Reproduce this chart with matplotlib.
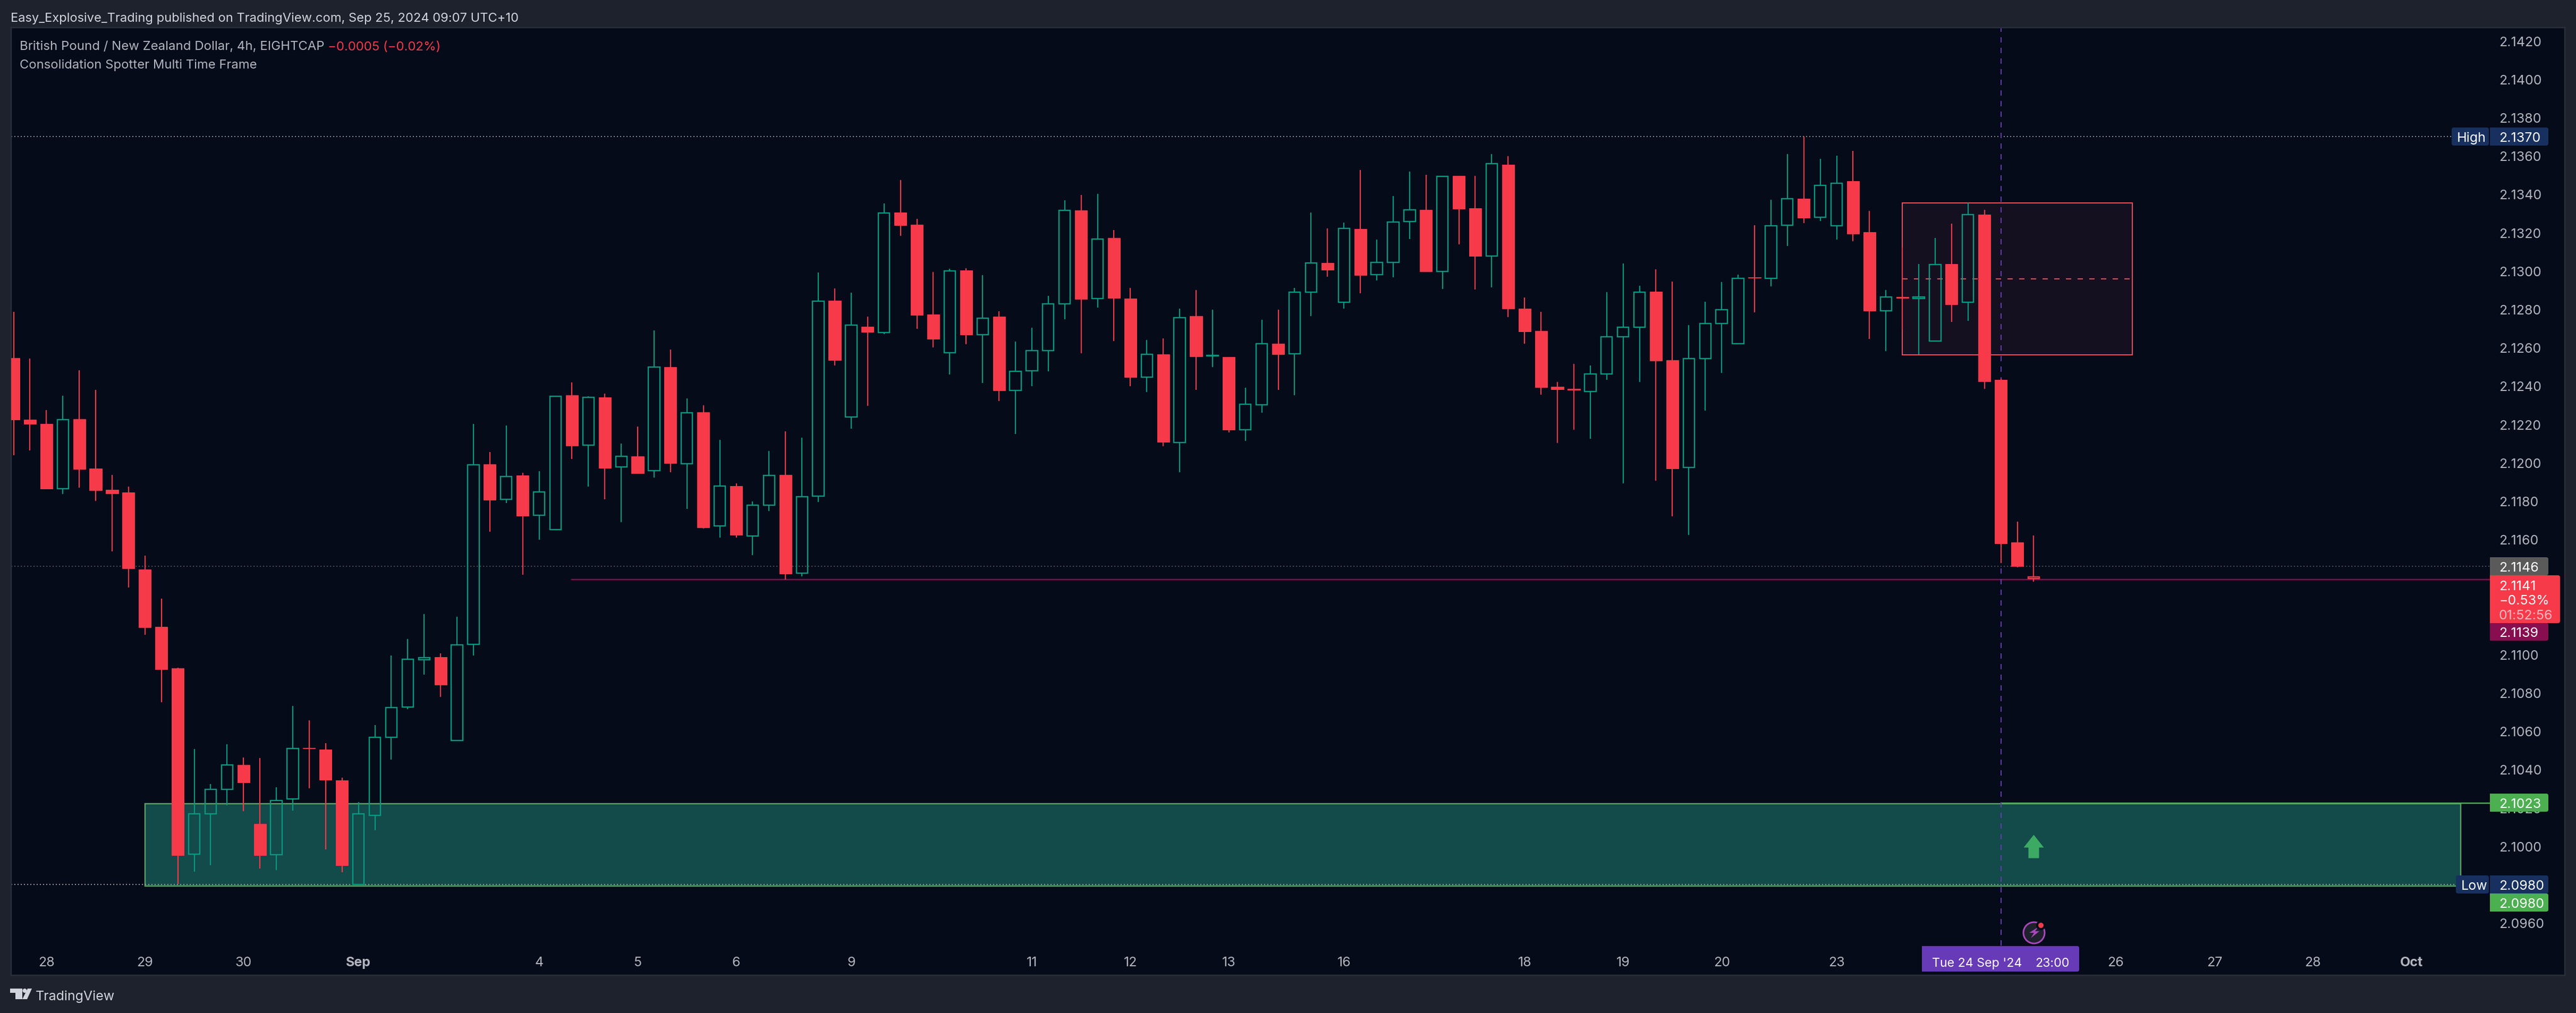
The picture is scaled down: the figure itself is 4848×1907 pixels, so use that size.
import matplotlib
matplotlib.use("Agg")
from matplotlib import pyplot as plt
from matplotlib.patches import Circle, FancyBboxPatch, Polygon, Rectangle
from matplotlib.path import Path

WIDTH, HEIGHT = 4848, 1908
DPI = 100
PX = 72 / DPI  # one pixel in points

BG_OUTER = "#1e222d"
BG_CHART = "#050b19"
BORDER = "#2a2e39"
RED = "#f63a4a"
TEAL = "#089981"
TEXT = "#b2b5be"

# candles, 4h bars
opens = [
    2.12545, 2.12224, 2.12201, 2.11865, 2.12226, 2.11969, 2.11859, 2.11845, 2.11443, 2.11144,
    2.10928, 2.09957, 2.10168, 2.10297, 2.10423, 2.10117, 2.09954, 2.10246, 2.10513, 2.10503,
    2.10343, 2.09801, 2.10159, 2.10568, 2.10724, 2.10972, 2.10986, 2.10552, 2.11052, 2.11992,
    2.11808, 2.11932, 2.11724, 2.11650, 2.12352, 2.12091, 2.12340, 2.11976, 2.12032, 2.11957,
    2.12498, 2.11995, 2.12262, 2.11669, 2.11878, 2.11618, 2.11779, 2.11936, 2.11422, 2.11826,
    2.12845, 2.12238, 2.12709, 2.12679, 2.13304, 2.13241, 2.12773, 2.12572, 2.13002, 2.12668,
    2.12761, 2.12377, 2.12480, 2.12585, 2.12828, 2.13315, 2.12855, 2.13171, 2.12856, 2.12446,
    2.12565, 2.12104, 2.12764, 2.12555, 2.12551, 2.12172, 2.12301, 2.12620, 2.12566, 2.12890,
    2.13041, 2.12835, 2.13218, 2.12979, 2.13045, 2.13256, 2.13318, 2.12997, 2.13495, 2.13327,
    2.13078, 2.13553, 2.12802, 2.12686, 2.12395, 2.12384, 2.12370, 2.12463, 2.12657, 2.12705,
    2.12891, 2.12533, 2.11974, 2.12541, 2.12724, 2.12619, 2.12966, 2.12960, 2.13239, 2.13376,
    2.13278, 2.13236, 2.13467, 2.13201, 2.12793, 2.12863, 2.12855, 2.12635, 2.13036, 2.12837,
    2.13294, 2.12432, 2.11584, 2.11404,
]
highs = [
    2.12786, 2.12543, 2.12274, 2.12348, 2.12481, 2.12380, 2.11937, 2.11875, 2.11514, 2.11291,
    2.10930, 2.10506, 2.10324, 2.10531, 2.10462, 2.10460, 2.10306, 2.10731, 2.10655, 2.10536,
    2.10356, 2.10230, 2.10630, 2.10993, 2.11080, 2.11211, 2.11004, 2.11197, 2.12201, 2.12054,
    2.12192, 2.11946, 2.11956, 2.12347, 2.12418, 2.12346, 2.12360, 2.12099, 2.12188, 2.12689,
    2.12589, 2.12335, 2.12299, 2.12118, 2.11891, 2.11797, 2.12060, 2.12164, 2.12130, 2.12992,
    2.12908, 2.12886, 2.12761, 2.13351, 2.13474, 2.13272, 2.12995, 2.13010, 2.13013, 2.12978,
    2.12788, 2.12631, 2.12703, 2.12869, 2.13368, 2.13396, 2.13402, 2.13212, 2.12911, 2.12640,
    2.12648, 2.12802, 2.12900, 2.12797, 2.12551, 2.12390, 2.12744, 2.12797, 2.12911, 2.13304,
    2.13221, 2.13252, 2.13526, 2.13163, 2.13390, 2.13518, 2.13501, 2.13493, 2.13495, 2.13495,
    2.13609, 2.13598, 2.12860, 2.12787, 2.12421, 2.12514, 2.12507, 2.12888, 2.13037, 2.12921,
    2.13007, 2.12944, 2.12716, 2.12839, 2.12940, 2.12980, 2.13238, 2.13370, 2.13608, 2.13700,
    2.13585, 2.13600, 2.13626, 2.13313, 2.12899, 2.13125, 2.13036, 2.13171, 2.13246, 2.13357,
    2.13317, 2.12438, 2.11692, 2.11619,
]
lows = [
    2.12038, 2.12063, 2.11863, 2.11836, 2.11870, 2.11799, 2.11537, 2.11349, 2.11103, 2.10749,
    2.09803, 2.09867, 2.09899, 2.10212, 2.10182, 2.09883, 2.09876, 2.10186, 2.10301, 2.09982,
    2.09863, 2.09801, 2.10083, 2.10451, 2.10715, 2.10894, 2.10777, 2.10552, 2.10993, 2.11640,
    2.11790, 2.11415, 2.11598, 2.11650, 2.12019, 2.11875, 2.11809, 2.11689, 2.11944, 2.11922,
    2.11950, 2.11758, 2.11656, 2.11609, 2.11609, 2.11518, 2.11748, 2.11390, 2.11406, 2.11795,
    2.12507, 2.12176, 2.12296, 2.12670, 2.13183, 2.12698, 2.12600, 2.12459, 2.12617, 2.12415,
    2.12320, 2.12149, 2.12398, 2.12476, 2.12747, 2.12571, 2.12808, 2.12634, 2.12398, 2.12368,
    2.12086, 2.11950, 2.12378, 2.12498, 2.12158, 2.12113, 2.12260, 2.12378, 2.12351, 2.12764,
    2.12969, 2.12802, 2.12883, 2.12949, 2.12966, 2.13166, 2.12996, 2.12906, 2.13137, 2.12903,
    2.12914, 2.12759, 2.12620, 2.12354, 2.12101, 2.12171, 2.12124, 2.12432, 2.11891, 2.12420,
    2.11905, 2.11719, 2.11622, 2.12271, 2.12468, 2.12619, 2.12783, 2.12918, 2.13130, 2.13249,
    2.13260, 2.13163, 2.13155, 2.12645, 2.12581, 2.12692, 2.12564, 2.12635, 2.12734, 2.12739,
    2.12384, 2.11476, 2.11455, 2.11380,
]
closes = [
    2.12224, 2.12201, 2.11863, 2.12224, 2.11966, 2.11856, 2.11838, 2.11447, 2.11140, 2.10921,
    2.09952, 2.10168, 2.10297, 2.10423, 2.10333, 2.09952, 2.10237, 2.10510, 2.10510, 2.10345,
    2.09899, 2.10168, 2.10568, 2.10722, 2.10974, 2.10983, 2.10841, 2.11050, 2.11989, 2.11806,
    2.11927, 2.11723, 2.11846, 2.12347, 2.12089, 2.12339, 2.11971, 2.12034, 2.11944, 2.12497,
    2.11997, 2.12261, 2.11662, 2.11877, 2.11622, 2.11779, 2.11932, 2.11420, 2.11823, 2.12841,
    2.12534, 2.12718, 2.12681, 2.13300, 2.13238, 2.12770, 2.12645, 2.13000, 2.12667, 2.12754,
    2.12376, 2.12477, 2.12585, 2.12829, 2.13314, 2.12853, 2.13167, 2.12857, 2.12445, 2.12564,
    2.12107, 2.12757, 2.12554, 2.12558, 2.12171, 2.12305, 2.12621, 2.12565, 2.12890, 2.13040,
    2.13004, 2.13222, 2.12978, 2.13045, 2.13253, 2.13317, 2.12996, 2.13493, 2.13324, 2.13077,
    2.13560, 2.12802, 2.12684, 2.12392, 2.12381, 2.12380, 2.12463, 2.12657, 2.12707, 2.12890,
    2.12532, 2.11969, 2.12541, 2.12724, 2.12796, 2.12961, 2.12963, 2.13236, 2.13375, 2.13276,
    2.13446, 2.13457, 2.13193, 2.12791, 2.12864, 2.12859, 2.12864, 2.13034, 2.12824, 2.13294,
    2.12424, 2.11578, 2.11458, 2.11395,
]

# 2.1120 and 2.1140 are covered by the price tags in the picture
y_ticks = [
    2.0960, 2.0980, 2.1000, 2.1020, 2.1040, 2.1060, 2.1080, 2.1100, 2.1160,
    2.1180, 2.1200, 2.1220, 2.1240, 2.1260, 2.1280, 2.1300, 2.1320, 2.1340, 2.1360, 2.1380,
    2.1400, 2.1420,
]
x_tick_bars = [2, 8, 14, 21, 32, 38, 44, 51, 62, 68, 74, 81, 92, 98, 104, 111, 128, 134, 140, 146]
x_tick_labels = ["28", "29", "30", "Sep", "4", "5", "6", "9", "11", "12", "13", "16", "18",
                 "19", "20", "23", "26", "27", "28", "Oct"]
bold_labels = ["Sep", "Oct"]

HIGH_PRICE = 2.1370
LOW_PRICE = 2.0980
PREV_CLOSE = 2.1146
KEY_LEVEL = 2.1139
SIGNAL_LEVEL = 2.10224
DEMAND_ZONE = (8, 149, 2.09793, 2.10222)  # bar from, bar to, low, high
BOX = (115, 129, 2.12562, 2.13354)
BOX_MID = 2.12958
KEY_LEVEL_START = 34
CURSOR_BAR = 121
SIGNAL_BAR = 123
SIGNAL_PRICE = 2.1000

# layout in pixels
LEFT, RIGHT, TOP, BOTTOM = 21, 4827, 53, 1837
AXIS_X = 4685
BAR0_X, BAR_STEP = 25.5, 30.91
PRICE_TOP, Y_TOP_PX, PX_PER_PRICE = 2.1420, 77.6, 36100
FONT = "Inter"


def price_at(y_px):
    return PRICE_TOP - (y_px - Y_TOP_PX) / PX_PER_PRICE


def bar_at(x_px):
    return (x_px - BAR0_X) / BAR_STEP


plt.rcParams["font.family"] = [FONT, "DejaVu Sans"]
fig = plt.figure(figsize=(WIDTH / DPI, HEIGHT / DPI), dpi=DPI, facecolor=BG_OUTER)
ax = fig.add_axes([LEFT / WIDTH, 1 - BOTTOM / HEIGHT, (RIGHT - LEFT) / WIDTH, (BOTTOM - TOP) / HEIGHT])
ax.set_facecolor(BG_CHART)
ax.set_xlim(bar_at(LEFT), bar_at(RIGHT))
ax.set_ylim(price_at(BOTTOM), price_at(TOP))
for spine in ax.spines.values():
    spine.set_color(BORDER)
    spine.set_linewidth(2.5 * PX)

axis_end = bar_at(AXIS_X)

# zones under the candles
x0, x1, y0, y1 = DEMAND_ZONE
ax.add_patch(Rectangle((x0, y0), x1 - x0, y1 - y0, fc="#134a4a", ec="#5b9e68", lw=2.5 * PX, zorder=1))
x0, x1, y0, y1 = BOX
ax.add_patch(Rectangle((x0, y0), x1 - x0, y1 - y0, fc="#151020", ec="#f7525f", lw=2 * PX, zorder=1))
ax.plot([x0, x1], [BOX_MID, BOX_MID], color="#f7525f", lw=2 * PX, ls=(0, (5, 6)), zorder=1.5)

# price lines
ax.plot([bar_at(LEFT), bar_at(4613)], [HIGH_PRICE, HIGH_PRICE], color="#868993", lw=2 * PX, ls=(0, (1, 2)), zorder=1.5)
ax.plot([bar_at(LEFT), bar_at(4622)], [LOW_PRICE, LOW_PRICE], color="#9598a1", lw=2 * PX, ls=(0, (1, 2)), zorder=1.5)
ax.plot([bar_at(LEFT), axis_end], [PREV_CLOSE, PREV_CLOSE], color="#5d606b", lw=1.5 * PX, ls=(0, (1.5, 2.5)), zorder=1.5)
ax.plot([KEY_LEVEL_START, axis_end], [KEY_LEVEL, KEY_LEVEL], color="#880e4f", lw=2.5 * PX, zorder=1.5)
ax.plot([CURSOR_BAR, axis_end], [SIGNAL_LEVEL, SIGNAL_LEVEL], color="#4caf50", lw=2.5 * PX, zorder=1.5)
ax.plot([CURSOR_BAR, CURSOR_BAR], [price_at(1781), price_at(TOP)], color="#673ab7", lw=2 * PX, ls=(0, (5, 5)), zorder=1.6)

# candles
for i, (o, h, l, c) in enumerate(zip(opens, highs, lows, closes)):
    last = i == len(opens) - 1
    up = c >= o
    col = TEAL if up else RED
    hollow = up or last
    top, bottom = max(o, c), min(o, c)
    ax.vlines(i, top, h, color=col, lw=2.2 * PX, zorder=3)
    ax.vlines(i, l, bottom, color=col, lw=2.2 * PX, zorder=3)
    if hollow:
        ax.bar(i, top - bottom, bottom=bottom, width=0.69, fc="none", ec=col, lw=2.4 * PX, zorder=3)
    else:
        ax.bar(i, top - bottom, bottom=bottom, width=0.75, fc=col, ec=col, lw=1 * PX, zorder=3)

# signal arrow as a marker on its bar
arrow = Path([(0, 22), (19, -2), (10, -2), (10, -22), (-10, -22), (-10, -2), (-19, -2), (0, 22)], closed=True)
ax.plot([SIGNAL_BAR], [SIGNAL_PRICE], marker=arrow, ms=44 * PX, color="#3daa64", mew=0, zorder=4)

# axes ticks sit inside the chart like on the platform
ax.yaxis.tick_right()
ax.set_yticks(y_ticks)
ax.set_yticklabels([f"{v:.4f}" for v in y_ticks])
ax.tick_params(axis="y", length=0, pad=-(RIGHT - 4703) * PX, labelsize=25 * PX, labelcolor=TEXT)
ax.set_xticks(x_tick_bars)
ax.set_xticklabels(x_tick_labels)
ax.tick_params(axis="x", length=0, pad=-36 * PX, labelsize=25 * PX, labelcolor=TEXT)
for lab in ax.get_xticklabels():
    if lab.get_text() in bold_labels:
        lab.set_fontweight("bold")

# everything else lives in an overlay in pixel coordinates
ui = fig.add_axes([0, 0, 1, 1], facecolor="none")
ui.set_xlim(0, WIDTH)
ui.set_ylim(HEIGHT, 0)
ui.axis("off")


def label(x, y, s, size=25, color="#ffffff", ha="left", **kw):
    ui.text(x, y, s, fontsize=size * PX, color=color, ha=ha, va="center_baseline", **kw)


def tag(x0, x1, y0, y1, color, rounded_right=True):
    r = 4
    ui.add_patch(FancyBboxPatch((x0 + r, y0 + r), x1 - x0 - 2 * r, y1 - y0 - 2 * r,
                                boxstyle=f"round,pad={r},rounding_size={r}", fc=color, ec="none"))
    if rounded_right:
        ui.add_patch(Rectangle((x0, y0), 2 * r, y1 - y0, fc=color, ec="none"))


# header and legend
label(20, 32, "Easy_Explosive_Trading published on TradingView.com, Sep 25, 2024 09:07 UTC+10", size=23.7, color="#d1d4dc")
label(37, 86, "British Pound / New Zealand Dollar, 4h, EIGHTCAP", size=24, color=TEXT)
label(617, 86, "\u22120.0005 (\u22120.02%)", size=24, color=RED)
label(37, 120, "Consolidation Spotter Multi Time Frame", size=23.8, color=TEXT)

# price axis tags
TAG_L, TAG_R, TEXT_X = 4686, 4796, 4703
NAVY = "#17305f"
tag(TAG_L, TAG_R, 241, 275, NAVY)
label(TEXT_X, 258, "2.1370")
tag(4614, 4684, 241, 275, NAVY, rounded_right=False)
label(4624, 258, "High")
tag(TAG_L, TAG_R, 1050, 1084, "#5a5a5a")
label(TEXT_X, 1067, "2.1146")
tag(TAG_L, 4818, 1084, 1174, RED)
label(TEXT_X, 1102, "2.1141")
label(TEXT_X, 1129, "\u22120.53%")
label(TEXT_X, 1157, "01:52:56", color="#fbb9bf")
tag(TAG_L, TAG_R, 1174, 1207, "#880e4f")
label(TEXT_X, 1190, "2.1139")
tag(TAG_L, TAG_R, 1495, 1529, "#4caf50")
label(TEXT_X, 1512, "2.1023")
tag(TAG_L, TAG_R, 1649, 1683, NAVY)
label(TEXT_X, 1666, "2.0980")
tag(4622, 4684, 1649, 1683, NAVY, rounded_right=False)
label(4632, 1666, "Low")
tag(TAG_L, TAG_R, 1683, 1717, "#4caf50")
label(TEXT_X, 1700, "2.0980")

# cursor date tag
tag(3617, 3913, 1782, 1830, "#673ab7")
label(3636, 1812, "Tue 24 Sep '24", size=23.2)
label(3895, 1812, "23:00", size=23.2, ha="right")

# bolt icon
ui.add_patch(Circle((3828, 1757), 20, fc="#1e222d", ec="#ab47bc", lw=3 * PX))
ui.add_patch(Polygon([(3836, 1746), (3819, 1757), (3828, 1757), (3822, 1767), (3838, 1754), (3830, 1754)],
                     closed=True, fc="#ab47bc", ec="none"))
ui.add_patch(Circle((3841, 1743), 9, fc=BG_CHART, ec="none"))
ui.add_patch(Circle((3841, 1743), 5, fc=RED, ec="none"))

# logo
LOGO = "#d1d4dc"
ui.add_patch(Rectangle((19, 1862), 23, 8, fc=LOGO, ec="none"))
ui.add_patch(Rectangle((29, 1862), 13, 20, fc=LOGO, ec="none"))
ui.add_patch(Circle((46.5, 1866), 4, fc=LOGO, ec="none"))
ui.add_patch(Polygon([(52, 1862), (60, 1862), (51, 1882), (42, 1882)], closed=True, fc=LOGO, ec="none"))
label(67, 1874, "TradingView", size=25, color=LOGO)

fig.savefig("out.png", dpi=DPI, facecolor=BG_OUTER)
